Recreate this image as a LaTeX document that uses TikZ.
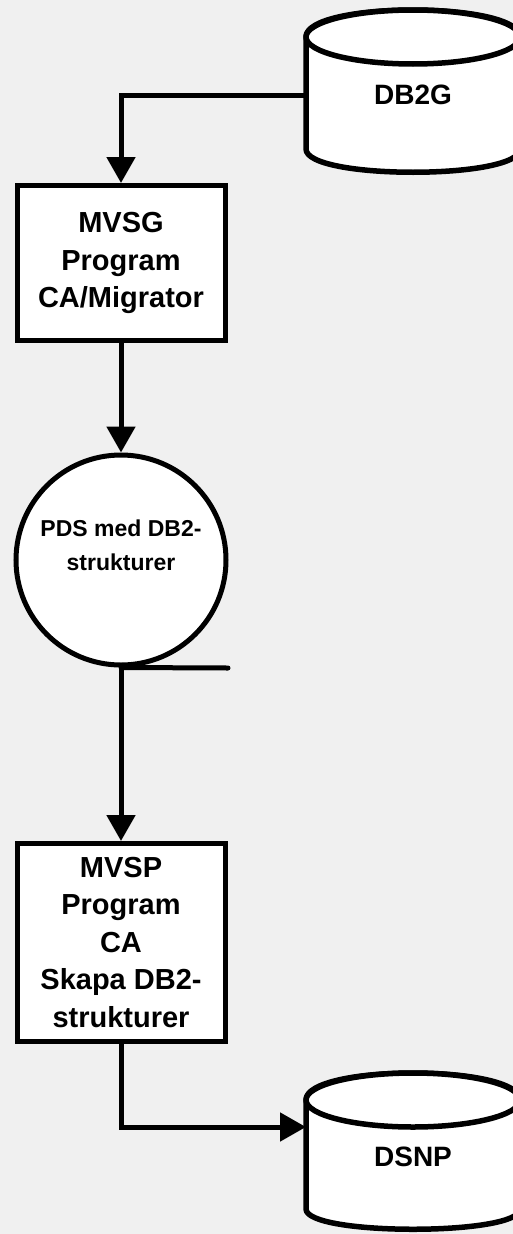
\documentclass[tikz,border=0pt]{standalone}
\usepackage{fontspec}
\setmainfont{Liberation Sans}
\usetikzlibrary{arrows.meta}
\definecolor{bgcol}{HTML}{F0F0F0}
\tikzset{
  proc/.style={draw, line width=5pt, fill=white, minimum width=208pt, align=center,
    font=\bfseries\fontsize{29}{37.5}\selectfont, inner sep=0pt},
  store/.style={draw, circle, line width=5pt, fill=white, minimum size=210pt, inner sep=0pt},
  lbl/.style={align=center, font=\bfseries\fontsize{23}{34}\selectfont, inner sep=0pt},
  cyllbl/.style={minimum width=214pt, minimum height=120pt, inner sep=0pt, outer sep=0pt,
    font=\bfseries\fontsize{28}{34}\selectfont},
  cyl/.style={line width=5.5pt, fill=white, line join=round},
  flow/.style={line width=5pt, -{Triangle[length=26pt,width=28pt]}},
  plain/.style={line width=5pt},
}
\begin{document}
\begin{tikzpicture}[x=1pt,y=-1pt]
\fill[bgcol] (0,0) rectangle (513,1234);
\useasboundingbox (0,0) rectangle (513,1234);
\clip (0,0) rectangle (513,1234);
% DB2G cylinder
\filldraw[cyl] (306,37) -- (306,149) .. controls (306,180) and (520,180) .. (520,149)
  -- (520,37) .. controls (520,1) and (306,1) .. (306,37) -- cycle;
\draw[cyl] (413,37) ellipse[x radius=107,y radius=27];
\node[cyllbl] (db2g) at (413,95) {DB2G};
% DSNP cylinder
\filldraw[cyl] (306,1100) -- (306,1209) .. controls (306,1236) and (520,1236) .. (520,1209)
  -- (520,1100) .. controls (520,1064) and (306,1064) .. (306,1100) -- cycle;
\draw[cyl] (413,1100) ellipse[x radius=107,y radius=27];
\node[cyllbl] (dsnp) at (413,1157) {DSNP};
% process boxes
\node[proc, minimum height=155pt] (mvsg) at (121,263) {MVSG\\Program\\CA/Migrator};
\node[store] (pds) at (121,560) {};
\node[lbl] (pdstext) at (121,545) {PDS med DB2-\\strukturer};
\coordinate (pdsend) at (228,668);
\node[proc, minimum height=198pt] (mvsp) at (121,942.5) {MVSP\\Program\\CA\\Skapa DB2-\\strukturer};
% connectors
\draw[flow] (db2g.west) -| (mvsg.north);
\draw[flow] (mvsg.south) -- (pds.north);
\draw[plain, line cap=round] (pds.south) -- (pdsend);
\draw[flow] (pds.south) -- (mvsp.north);
\draw[flow] (mvsp.south) |- ([yshift=30pt]dsnp.west);
\end{tikzpicture}
\end{document}
